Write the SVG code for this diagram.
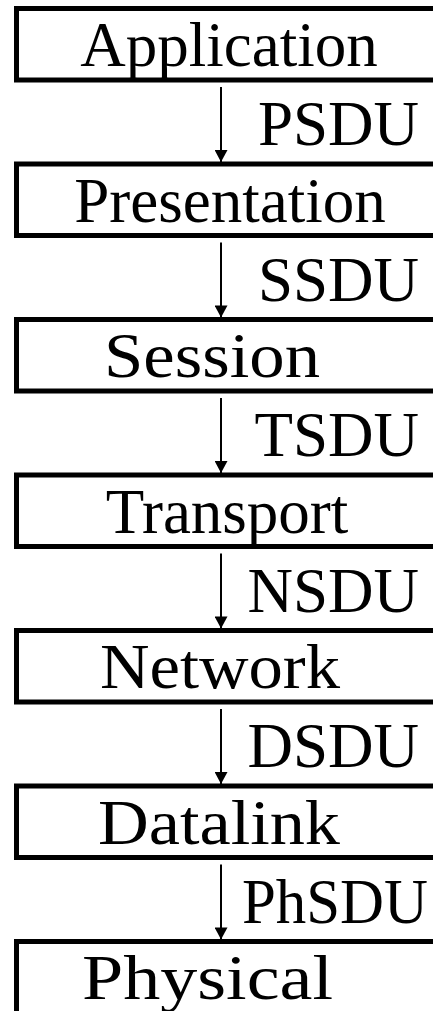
<svg xmlns="http://www.w3.org/2000/svg" width="433" height="1011" viewBox="0 0 433 1011">
<style>
.box{fill:#fff;stroke:#000;stroke-width:5}
.t{font-family:"Liberation Serif","Times New Roman",serif;font-size:63px;fill:#000}
.lbl{font-family:"Liberation Serif","Times New Roman",serif;font-size:63px;fill:#000;text-anchor:end}
.ln{stroke:#000;stroke-width:2;fill:none}
</style>
<defs>
<marker id="ah" markerWidth="14" markerHeight="13" refX="13" refY="7" orient="auto" markerUnits="userSpaceOnUse" viewBox="0 0 13 14">
<path d="M0,0 L13,7 L0,14 Z" fill="#000"/>
</marker>
</defs>
<g id="application"><rect class="box" x="16.5" y="8.5" width="450" height="71.5"/><text class="t" x="229" y="66" text-anchor="middle">Application</text></g>
<g id="presentation"><rect class="box" x="16.5" y="164" width="450" height="71.5"/><text class="t" x="230" y="221.5" text-anchor="middle">Presentation</text></g>
<g id="session"><rect class="box" x="16.5" y="319.5" width="450" height="71.5"/><text class="t" x="104" y="377" textLength="216" lengthAdjust="spacingAndGlyphs">Session</text></g>
<g id="transport"><rect class="box" x="16.5" y="475" width="450" height="71.5"/><text class="t" x="227" y="532.5" text-anchor="middle">Transport</text></g>
<g id="network"><rect class="box" x="16.5" y="630.5" width="450" height="71.5"/><text class="t" x="100" y="688" textLength="240" lengthAdjust="spacingAndGlyphs">Network</text></g>
<g id="datalink"><rect class="box" x="16.5" y="786" width="450" height="71.5"/><text class="t" x="98" y="843.5" textLength="242" lengthAdjust="spacingAndGlyphs">Datalink</text></g>
<g id="physical"><rect class="box" x="16.5" y="941.5" width="450" height="120"/><text class="t" x="82" y="999" textLength="251" lengthAdjust="spacingAndGlyphs">Physical</text></g>
<g id="connectors">
<line class="ln" x1="221" y1="87" x2="221" y2="162" marker-end="url(#ah)"/>
<line class="ln" x1="221" y1="242.5" x2="221" y2="317.5" marker-end="url(#ah)"/>
<line class="ln" x1="221" y1="398" x2="221" y2="473" marker-end="url(#ah)"/>
<line class="ln" x1="221" y1="553.5" x2="221" y2="628.5" marker-end="url(#ah)"/>
<line class="ln" x1="221" y1="709" x2="221" y2="784" marker-end="url(#ah)"/>
<line class="ln" x1="221" y1="864.5" x2="221" y2="939.5" marker-end="url(#ah)"/>
<text class="lbl" x="419" y="145">PSDU</text>
<text class="lbl" x="419" y="300.5">SSDU</text>
<text class="lbl" x="419" y="456">TSDU</text>
<text class="lbl" x="419" y="611.5">NSDU</text>
<text class="lbl" x="419" y="767">DSDU</text>
<text class="t" x="242" y="922.5" textLength="186" lengthAdjust="spacingAndGlyphs">PhSDU</text>
</g>
</svg>
